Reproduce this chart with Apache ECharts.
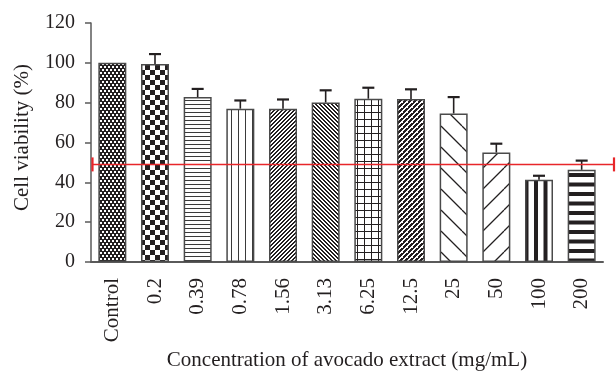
<!DOCTYPE html>
<html>
<head>
<meta charset="utf-8">
<script src="https://cdn.jsdelivr.net/npm/echarts@6/dist/echarts.min.js"></script>
<style>
html,body{margin:0;padding:0;background:#fff;}
#chart{width:616px;height:373px;}
</style>
</head>
<body>
<div id="chart"></div>
<script>
// ---- data ----
const categories = ['Control','0.2','0.39','0.78','1.56','3.13','6.25','12.5','25','50','100','200'];
const viability  = [100, 99.4, 82.8, 77.0, 77.0, 80.1, 82.0, 81.8, 74.6, 55.0, 41.3, 46.3];
const errors     = [0, 5.0, 4.1, 4.1, 4.6, 6.1, 5.5, 4.9, 8.2, 4.4, 2.0, 4.6];
const yTicks     = [0, 20, 40, 60, 80, 100, 120];
const halfLine   = [49];
const patternTypes = ['dots','checker','hlines','vlines','diagUp','diagDown','grid','diagUpThick','sparseDown','sparseUp','vstripes','hstripes'];

// ---- patterns ----
function makePattern(type){
  const c = document.createElement('canvas');
  const ink = '#231f20';
  function setup(W,H){ c.width=W; c.height=H; const g=c.getContext('2d'); g.fillStyle='#fff'; g.fillRect(0,0,W,H); g.fillStyle=ink; return g; }
  let g;
  switch(type){
    case 'dots':
      g = setup(4,6); g.fillRect(0,0,4,6); g.fillStyle='#fff'; g.fillRect(0,0,2,2); g.fillRect(2,3,2,2); break;
    case 'checker':
      g = setup(10,10); g.fillRect(0,0,5,5); g.fillRect(5,5,5,5); break;
    case 'hlines':
      g = setup(4,4); g.fillStyle='#3a3a3a'; g.fillRect(0,0,4,1); break;
    case 'vlines':
      g = setup(7,7); g.fillStyle='#3a3a3a'; g.fillRect(0,0,1,7); break;
    case 'diagUp':
      g = setup(4,4); for(let x=0;x<4;x++){ g.fillRect(x,(3-x+4)%4,1,1); g.fillRect(x,(4-x+4)%4,1,1);} break;
    case 'diagDown':
      g = setup(4,4); for(let x=0;x<4;x++){ g.fillRect(x,x,1,1); g.fillRect(x,(x+1)%4,1,1);} break;
    case 'grid':
      g = setup(7,7); g.fillRect(0,0,7,1); g.fillRect(0,0,1,7); break;
    case 'diagUpThick':
      g = setup(5,5); for(let x=0;x<5;x++){ g.fillRect(x,(4-x+5)%5,1,1); g.fillRect(x,(5-x+5)%5,1,1); g.fillRect(x,(6-x+5)%5,1,1);} g.fillStyle='#fff'; g.fillRect(2,2,1,1); break;
    case 'sparseDown':
      g = setup(21,21); g.strokeStyle=ink; g.lineWidth=1.3; g.beginPath();
      for(let k=-1;k<=1;k++){ g.moveTo(k*21,0); g.lineTo(k*21+21,21);} g.stroke(); break;
    case 'sparseUp':
      g = setup(21,21); g.strokeStyle=ink; g.lineWidth=1.3; g.beginPath();
      for(let k=-1;k<=1;k++){ g.moveTo(k*21,21); g.lineTo(k*21+21,0);} g.stroke(); break;
    case 'vstripes':
      g = setup(19,19); g.fillRect(2,0,4,19); g.fillRect(11.5,0,4,19); break;
    case 'hstripes':
      g = setup(19,19); g.fillRect(0,2,19,4); g.fillRect(0,11.5,19,4); break;
  }
  return {image: c, repeat: 'repeat'};
}

const barData = viability.map((v,i)=>({
  value: v,
  itemStyle: { color: makePattern(patternTypes[i]), borderColor: '#4a4a4a', borderWidth: 1.5 }
}));

const errData = viability.map((v,i)=>[i, v, errors[i]]);

const serif = '"Liberation Serif", "DejaVu Serif", serif';
const chart = echarts.init(document.getElementById('chart'), null, {renderer:'canvas'});
chart.setOption({
  animation: false,
  backgroundColor: '#fff',
  grid: { left: 91, right: 13, top: 23, bottom: 111, containLabel: false, outerBoundsMode: 'none' },
  xAxis: {
    type: 'category',
    data: categories,
    name: 'Concentration of avocado extract (mg/mL)',
    nameLocation: 'middle',
    nameGap: 88,
    nameTextStyle: { fontFamily: serif, fontSize: 21, color: '#231f20' },
    axisLine: { lineStyle: { color: '#5a5a5a', width: 2 } },
    axisTick: { alignWithLabel: true, length: 6, lineStyle: { color: '#5a5a5a', width: 1.5 } },
    axisLabel: { rotate: 90, margin: 16, fontFamily: serif, fontSize: 21, color: '#231f20' }
  },
  yAxis: {
    type: 'value',
    min: 0, max: 120, interval: 20,
    name: 'Cell viability (%)',
    nameLocation: 'middle',
    nameGap: 58,
    nameTextStyle: { fontFamily: serif, fontSize: 21, color: '#231f20', padding: [0, 0, 0, 10] },
    splitLine: { show: false },
    axisLine: { show: true, lineStyle: { color: '#5a5a5a', width: 1.5 } },
    axisTick: { show: true, length: 6, lineStyle: { color: '#5a5a5a', width: 1.5 } },
    axisLabel: { margin: 16, fontFamily: serif, fontSize: 20, color: '#231f20',
      formatter: v => yTicks.includes(v) ? String(v) : '' }
  },
  series: [
    { type: 'bar', data: barData, barWidth: 28, z: 2 },
    {
      type: 'custom', z: 3, data: errData,
      renderItem: function(params, api){
        const i = api.value(0), v = api.value(1), e = api.value(2);
        if (!e) return null;
        const top = api.coord([i, v]);
        const cap = api.coord([i, v + e]);
        return { type: 'group', children: [
          { type: 'line', shape: { x1: top[0], y1: top[1], x2: cap[0], y2: cap[1] }, style: { stroke: '#231f20', lineWidth: 1.6 } },
          { type: 'line', shape: { x1: cap[0]-6, y1: cap[1], x2: cap[0]+6, y2: cap[1] }, style: { stroke: '#231f20', lineWidth: 2.2 } }
        ]};
      }
    },
    {
      type: 'custom', z: 4, clip: false, data: halfLine.map(v=>[0, v]),
      renderItem: function(params, api){
        const p = api.coord([0, api.value(1)]);
        const cs = params.coordSys;
        const x1 = cs.x + 1.5, x2 = cs.x + cs.width + 11;
        const y = p[1];
        const st = { stroke: '#e8262a', lineWidth: 1.5 };
        return { type: 'group', children: [
          { type: 'line', shape: { x1: x1, y1: y, x2: x2, y2: y }, style: st },
          { type: 'line', shape: { x1: x1, y1: y-7, x2: x1, y2: y+7 }, style: { stroke: '#e8262a', lineWidth: 2.2 } },
          { type: 'line', shape: { x1: x2, y1: y-7, x2: x2, y2: y+7 }, style: { stroke: '#e8262a', lineWidth: 2.2 } }
        ]};
      }
    }
  ]
});
</script>
</body>
</html>
